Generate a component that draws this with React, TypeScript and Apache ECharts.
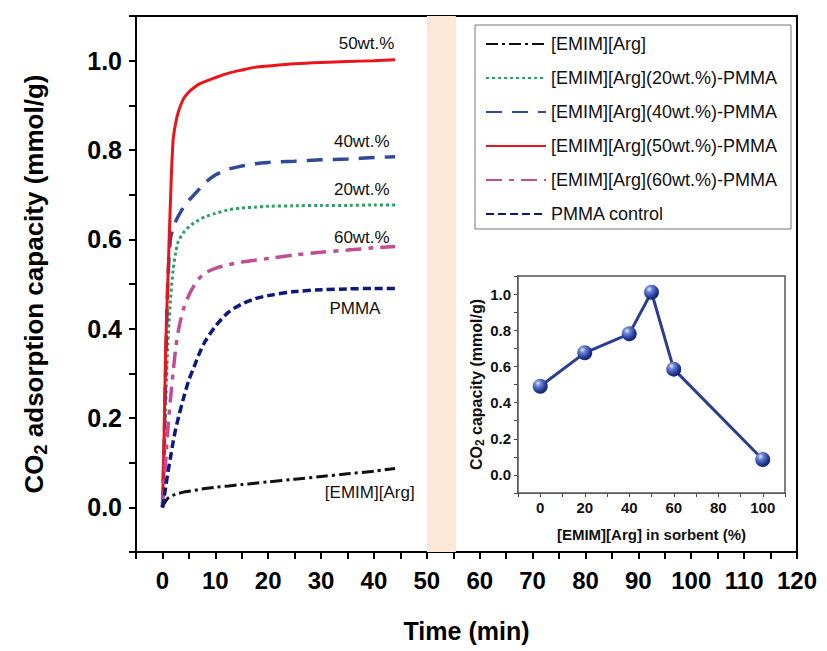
import React, { useEffect, useRef } from 'react';
import * as echarts from 'echarts';

const FONT = '"Liberation Sans", Arial, Helvetica, sans-serif';

// Main chart: time (min) and CO2 uptake (mmol/g)
const TIME = [0, 0.3, 0.6, 1, 1.5, 2, 2.5, 3, 4, 5, 6, 7, 8, 10, 12.5, 15, 17.5, 20, 25, 30, 35, 40, 44];
const EMIM_ARG = [0, 0.008, 0.014, 0.02, 0.024, 0.027, 0.029, 0.031, 0.034, 0.036, 0.038, 0.04, 0.042, 0.045, 0.048, 0.051, 0.054, 0.057, 0.063, 0.069, 0.075, 0.081, 0.087];
const WT20 = [0, 0.1, 0.22, 0.36, 0.46, 0.53, 0.57, 0.595, 0.615, 0.628, 0.637, 0.644, 0.65, 0.658, 0.666, 0.67, 0.672, 0.674, 0.675, 0.676, 0.676, 0.677, 0.677];
const WT40 = [0, 0.12, 0.3, 0.5, 0.6, 0.625, 0.64, 0.652, 0.672, 0.687, 0.7, 0.713, 0.726, 0.744, 0.757, 0.764, 0.769, 0.772, 0.775, 0.778, 0.78, 0.783, 0.785];
const WT50 = [0, 0.15, 0.35, 0.5, 0.68, 0.82, 0.86, 0.885, 0.915, 0.93, 0.94, 0.948, 0.953, 0.962, 0.972, 0.979, 0.985, 0.988, 0.993, 0.996, 0.998, 1.0, 1.002];
const WT60 = [0, 0.05, 0.1, 0.17, 0.24, 0.3, 0.355, 0.395, 0.445, 0.475, 0.497, 0.513, 0.524, 0.535, 0.543, 0.549, 0.553, 0.557, 0.565, 0.571, 0.576, 0.581, 0.584];
const PMMA = [0, 0.02, 0.045, 0.075, 0.11, 0.145, 0.175, 0.2, 0.245, 0.285, 0.315, 0.345, 0.37, 0.405, 0.437, 0.455, 0.467, 0.474, 0.483, 0.487, 0.489, 0.49, 0.49];

const SERIES_NAMES = [
  '[EMIM][Arg]',
  '[EMIM][Arg](20wt.%)-PMMA',
  '[EMIM][Arg](40wt.%)-PMMA',
  '[EMIM][Arg](50wt.%)-PMMA',
  '[EMIM][Arg](60wt.%)-PMMA',
  'PMMA control',
];
const SERIES_VALUES = [EMIM_ARG, WT20, WT40, WT50, WT60, PMMA];
const CURVE_LABELS = ['[EMIM][Arg]', '20wt.%', '40wt.%', '50wt.%', '60wt.%', 'PMMA'];

// Inset: loading vs capacity
const INSET_LOADING = [0, 20, 40, 50, 60, 100];
const INSET_CAPACITY = [0.49, 0.675, 0.78, 1.01, 0.585, 0.085];

// Styling / label placement (data coords of curve labels)
const STYLES = [
  { color: '#111111', width: 3, type: [12, 4, 3, 4] },
  { color: '#2aa163', width: 3, type: [3, 3] },
  { color: '#2f4a9a', width: 3.5, type: [16, 10] },
  { color: '#e8151b', width: 3, type: 'solid' },
  { color: '#c14d94', width: 3.5, type: [16, 7, 5, 7] },
  { color: '#0d1a7a', width: 3.5, type: [8, 4] },
];
const LABEL_POS = [
  [39.2, 0.034],
  [37.7, 0.711],
  [37.7, 0.82],
  [38.6, 1.039],
  [37.7, 0.605],
  [36.4, 0.446],
];

export default function App() {
  const ref = useRef<HTMLDivElement>(null);

  useEffect(() => {
    document.body.style.margin = '0';
    if (!ref.current) return;
    const chart = echarts.init(ref.current, undefined, { renderer: 'svg' });

    const mainSeries = SERIES_NAMES.map((name, i) => {
      const s: any = {
        name,
        type: 'line',
        xAxisIndex: 0,
        yAxisIndex: 0,
        symbol: 'none',
        smooth: 0.3,
        data: TIME.map((t, k) => [t, SERIES_VALUES[i][k]]),
        lineStyle: { color: STYLES[i].color, width: STYLES[i].width, type: STYLES[i].type },
        itemStyle: { color: STYLES[i].color },
        markPoint: {
          silent: true,
          symbol: 'circle',
          symbolSize: 0,
          itemStyle: { color: 'transparent' },
          label: {
            show: true,
            position: 'inside',
            formatter: '{b}',
            fontSize: 17,
            fontFamily: FONT,
            color: '#111',
          },
          data: [{ name: CURVE_LABELS[i], coord: LABEL_POS[i] }],
        },
      };
      if (i === 0) {
        s.markArea = {
          silent: true,
          itemStyle: { color: '#fde8d8' },
          data: [[{ xAxis: 50 }, { xAxis: 55.5 }]],
        };
      }
      return s;
    });

    const insetSeries = {
      name: 'inset',
      type: 'line',
      xAxisIndex: 1,
      yAxisIndex: 1,
      data: INSET_LOADING.map((x, i) => [x, INSET_CAPACITY[i]]),
      symbol: 'circle',
      symbolSize: 15,
      lineStyle: { color: '#2a3d8f', width: 3 },
      itemStyle: {
        color: new echarts.graphic.RadialGradient(0.35, 0.3, 0.75, [
          { offset: 0, color: '#e8eeff' },
          { offset: 0.25, color: '#7088d8' },
          { offset: 0.7, color: '#233a96' },
          { offset: 1, color: '#101e5c' },
        ]),
      },
      z: 5,
    };

    const evenTenth = (v: number) => {
      const k = Math.round(v * 10);
      return k >= 0 && k <= 10 && k % 2 === 0 ? (k / 10).toFixed(1) : '';
    };

    chart.setOption({
      animation: false,
      backgroundColor: '#fff',
      textStyle: { fontFamily: FONT },
      grid: [
        { left: 136, top: 16, width: 661, height: 536, show: true, borderColor: '#000', borderWidth: 2 },
        { left: 518, top: 276, width: 267, height: 217, show: true, backgroundColor: '#fff', borderColor: '#555', borderWidth: 1.5, z: 3 },
      ],
      legend: {
        data: SERIES_NAMES,
        orient: 'vertical',
        left: 475,
        top: 25,
        itemWidth: 60,
        itemHeight: 16,
        itemGap: 16,
        padding: [10, 14, 6, 10],
        borderColor: '#777',
        borderWidth: 1,
        backgroundColor: '#fff',
        selectedMode: false,
        itemStyle: { opacity: 0 },
        textStyle: { fontSize: 18, color: '#111', fontFamily: FONT, lineHeight: 16 },
      },
      xAxis: [
        {
          type: 'value',
          gridIndex: 0,
          min: -5,
          max: 120,
          interval: 5,
          axisLine: { onZero: false, lineStyle: { color: '#000', width: 2 } },
          axisTick: { length: 7, lineStyle: { color: '#000', width: 2 } },
          axisLabel: {
            formatter: (v: number) => (v >= 0 && v % 10 === 0 ? String(v) : ''),
            fontSize: 24,
            fontWeight: 'bold',
            color: '#000',
            margin: 16,
            fontFamily: FONT,
          },
          splitLine: { show: false },
          name: 'Time (min)',
          nameLocation: 'middle',
          nameGap: 66,
          nameTextStyle: { fontSize: 25, fontWeight: 'bold', color: '#000', fontFamily: FONT },
        },
        {
          type: 'value',
          gridIndex: 1,
          min: -10,
          max: 110,
          interval: 10,
          axisLine: { onZero: false, lineStyle: { color: '#444', width: 1.5 } },
          axisTick: { length: 4, lineStyle: { color: '#444', width: 1 } },
          axisLabel: {
            formatter: (v: number) => (v >= 0 && v <= 100 && v % 20 === 0 ? String(v) : ''),
            fontSize: 15,
            fontWeight: 'bold',
            color: '#111',
            margin: 7,
            fontFamily: FONT,
          },
          splitLine: { show: false },
          name: '[EMIM][Arg] in sorbent (%)',
          nameLocation: 'middle',
          nameGap: 34,
          nameTextStyle: { fontSize: 15, fontWeight: 'bold', color: '#111', fontFamily: FONT },
        },
      ],
      yAxis: [
        {
          type: 'value',
          gridIndex: 0,
          min: -0.1,
          max: 1.1,
          interval: 0.1,
          axisLine: { onZero: false, lineStyle: { color: '#000', width: 2 } },
          axisTick: { length: 7, lineStyle: { color: '#000', width: 2 } },
          axisLabel: {
            formatter: evenTenth,
            fontSize: 25,
            fontWeight: 'bold',
            color: '#000',
            margin: 14,
            fontFamily: FONT,
          },
          splitLine: { show: false },
          name: '{a|CO}{b|2}{a| adsorption capacity (mmol/g)}',
          nameLocation: 'middle',
          nameGap: 86,
          nameTextStyle: {
            rich: {
              a: { fontSize: 26, fontWeight: 'bold', color: '#000', fontFamily: FONT, lineHeight: 32 },
              b: { fontSize: 18, fontWeight: 'bold', color: '#000', fontFamily: FONT, lineHeight: 19, verticalAlign: 'bottom' },
            },
          },
        },
        {
          type: 'value',
          gridIndex: 1,
          min: -0.1,
          max: 1.1,
          interval: 0.1,
          axisLine: { onZero: false, lineStyle: { color: '#444', width: 1.5 } },
          axisTick: { length: 4, lineStyle: { color: '#444', width: 1 } },
          axisLabel: {
            formatter: evenTenth,
            fontSize: 15,
            fontWeight: 'bold',
            color: '#111',
            margin: 7,
            fontFamily: FONT,
          },
          splitLine: { show: false },
          name: '{a|CO}{b|2}{a| capacity (mmol/g)}',
          nameLocation: 'middle',
          nameGap: 32,
          nameTextStyle: {
            rich: {
              a: { fontSize: 16, fontWeight: 'bold', color: '#111', fontFamily: FONT, lineHeight: 20 },
              b: { fontSize: 12, fontWeight: 'bold', color: '#111', fontFamily: FONT, lineHeight: 13, verticalAlign: 'bottom' },
            },
          },
        },
      ],
      series: [...mainSeries, insetSeries],
    });

    return () => {
      chart.dispose();
    };
  }, []);

  return <div ref={ref} style={{ width: 827, height: 651 }} />;
}
